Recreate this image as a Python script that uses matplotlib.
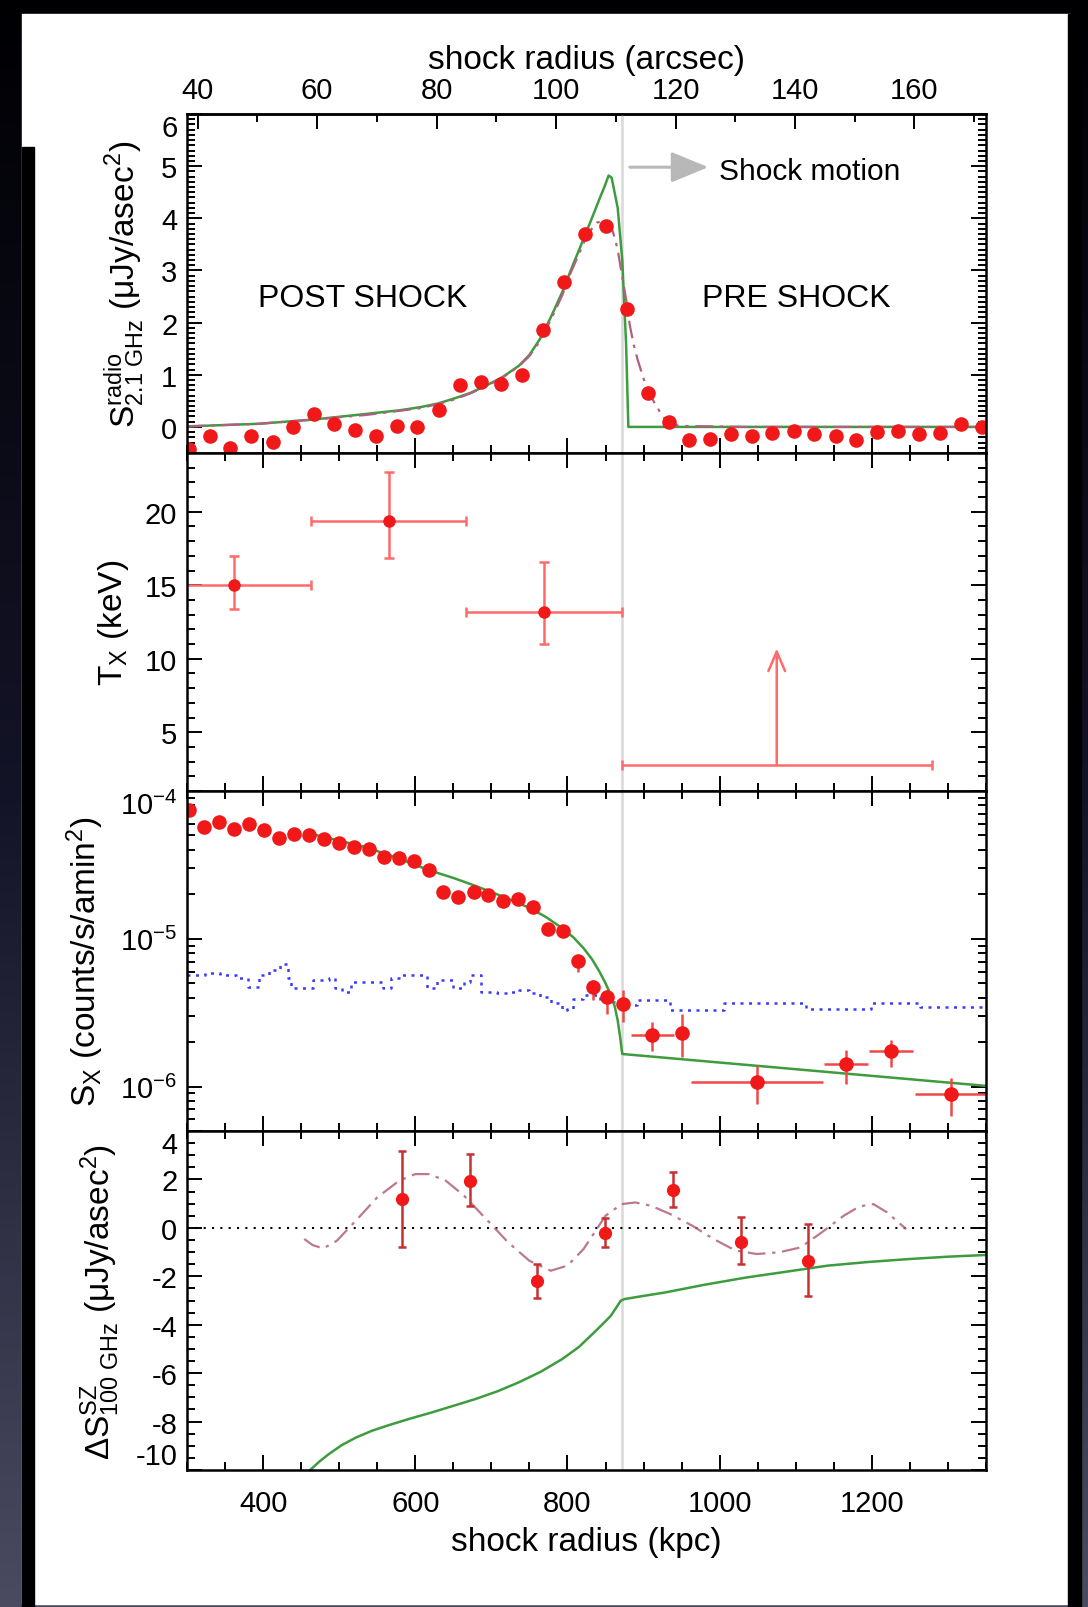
import numpy as np
import matplotlib
matplotlib.use('Agg')
import matplotlib.pyplot as plt
from matplotlib.ticker import MultipleLocator, LogLocator, NullFormatter
from matplotlib.patches import Rectangle
from matplotlib.colors import LinearSegmentedColormap

plt.rcParams['font.family'] = ['Liberation Sans', 'DejaVu Sans']
plt.rcParams['mathtext.fontset'] = 'custom'
plt.rcParams['mathtext.rm'] = 'Liberation Sans'
plt.rcParams['mathtext.it'] = 'Liberation Sans:italic'
plt.rcParams['mathtext.bf'] = 'Liberation Sans:bold'
plt.rcParams['axes.unicode_minus'] = False

KPC_PER_ARCSEC = 7.85
R_SHOCK = 871.0

# radio surface brightness profile (kpc, uJy/asec^2)
radio_r = [302.6, 329.7, 356.8, 384.6, 412.4, 439.5, 466.5, 493.6, 520.7, 548.4,
           575.5, 602.5, 631.0, 658.8, 685.8, 712.9, 740.0, 767.8, 794.9, 822.7,
           851.1, 878.2, 905.3, 933.0, 960.0, 987.0, 1014.9, 1042.0, 1069.0, 1097.5,
           1124.6, 1152.3, 1179.4, 1207.2, 1234.3, 1261.4, 1289.1, 1316.9, 1344.6]
radio_s = [-0.42, -0.18, -0.41, -0.17, -0.28, -0.01, 0.25, 0.06, -0.05, -0.18,
           0.01, -0.01, 0.33, 0.81, 0.87, 0.82, 1.00, 1.86, 2.78, 3.70,
           3.85, 2.26, 0.65, 0.09, -0.25, -0.23, -0.14, -0.18, -0.12, -0.07,
           -0.14, -0.18, -0.26, -0.09, -0.07, -0.14, -0.12, 0.06, -0.01]

# unconvolved model
radio_mod_r = [300, 394, 465, 536, 580, 607, 630, 650, 672, 693, 715, 736, 750,
               764, 778, 793, 807, 821, 832, 842, 849, 854, 858, 866, 872, 877,
               880, 1350]
radio_mod_s = [0.01, 0.06, 0.14, 0.25, 0.32, 0.38, 0.45, 0.54, 0.65, 0.79, 0.96,
               1.17, 1.38, 1.69, 2.10, 2.58, 3.10, 3.60, 4.00, 4.37, 4.62, 4.82,
               4.78, 4.20, 3.20, 1.60, 0.0, 0.0]

# model convolved with the beam
radio_conv_r = [300, 394, 465, 536, 580, 607, 630, 650, 672, 693, 715, 736, 750,
                764, 778, 793, 804, 814, 821, 828, 839, 850, 856, 860, 866, 871,
                877, 882, 887, 892, 898, 903, 914, 921, 928, 937, 946, 1035, 1350]
radio_conv_s = [0.01, 0.06, 0.14, 0.23, 0.31, 0.36, 0.44, 0.52, 0.64, 0.78, 0.95,
                1.16, 1.36, 1.65, 2.05, 2.52, 2.95, 3.28, 3.52, 3.73, 3.92, 3.95,
                3.88, 3.73, 3.40, 2.96, 2.45, 1.94, 1.58, 1.30, 1.02, 0.79, 0.47,
                0.30, 0.15, 0.07, 0.02, 0.0, 0.0]

# X-ray temperatures (keV)
tx_r = [362, 565, 769]
tx_xerr = [101, 102, 102]
tx = [15.0, 19.36, 13.15]
tx_lo = [13.4, 16.86, 11.02]
tx_hi = [17.0, 22.7, 16.6]
tx_lim_r = 1075
tx_lim_xerr = 204
tx_lim = 2.8
tx_lim_top = 10.7

# X-ray surface brightness (counts/s/amin^2)
sx_r = [302.7, 322.6, 342.6, 361.8, 381.7, 401.0, 420.9, 440.8, 460.1, 480.0,
        499.2, 519.2, 539.1, 558.4, 578.3, 598.2, 617.5, 636.7, 656.6, 676.6,
        695.8, 715.8, 735.0, 755.0, 774.2, 794.1, 813.3, 833.3, 852.5, 872.4,
        911.6, 950.8, 1049.0, 1165.9, 1225.0, 1303.4]
sx = [7.38e-5, 5.75e-5, 6.15e-5, 5.53e-5, 5.98e-5, 5.44e-5, 4.81e-5, 5.12e-5, 5.04e-5, 4.73e-5,
      4.42e-5, 4.15e-5, 4.05e-5, 3.59e-5, 3.51e-5, 3.37e-5, 2.91e-5, 2.08e-5, 1.91e-5, 2.08e-5,
      1.98e-5, 1.80e-5, 1.87e-5, 1.65e-5, 1.17e-5, 1.12e-5, 7.08e-6, 4.74e-6, 4.05e-6, 3.59e-6,
      2.24e-6, 2.31e-6, 1.08e-6, 1.42e-6, 1.73e-6, 8.87e-7]
sx_hi = [7.38e-5, 5.75e-5, 6.15e-5, 5.53e-5, 5.98e-5, 5.44e-5, 4.81e-5, 5.12e-5, 5.04e-5, 4.73e-5,
         4.42e-5, 4.15e-5, 4.05e-5, 3.59e-5, 3.51e-5, 3.37e-5, 2.91e-5, 2.08e-5, 1.91e-5, 2.08e-5,
         1.98e-5, 1.80e-5, 1.87e-5, 1.65e-5, 1.17e-5, 1.12e-5, 7.78e-6, 5.26e-6, 4.49e-6, 4.49e-6,
         2.74e-6, 3.12e-6, 1.38e-6, 1.78e-6, 2.05e-6, 1.14e-6]
sx_lo = [7.38e-5, 5.75e-5, 6.15e-5, 5.53e-5, 5.98e-5, 5.44e-5, 4.81e-5, 5.12e-5, 5.04e-5, 4.73e-5,
         4.42e-5, 4.15e-5, 4.05e-5, 3.59e-5, 3.51e-5, 3.37e-5, 2.91e-5, 2.08e-5, 1.91e-5, 2.08e-5,
         1.98e-5, 1.80e-5, 1.87e-5, 1.65e-5, 1.17e-5, 1.12e-5, 6.00e-6, 3.84e-6, 3.12e-6, 2.74e-6,
         1.75e-6, 1.58e-6, 7.59e-7, 1.04e-6, 1.35e-6, 6.30e-7]
sx_xerr = [0] * 30 + [28.5, 0, 87, 28.5, 28.5, 47]

sx_mod_r = [465, 500, 536, 578, 618, 650, 679, 715, 750, 772, 793, 808, 821, 832,
            842, 850, 857, 862, 866, 869, 872, 1350]
sx_mod = [5.1e-5, 4.62e-5, 4.15e-5, 3.5e-5, 2.91e-5, 2.58e-5, 2.28e-5, 1.93e-5,
          1.62e-5, 1.40e-5, 1.18e-5, 1.02e-5, 8.65e-6, 7.3e-6, 6.0e-6, 5.0e-6,
          4.15e-6, 3.5e-6, 2.8e-6, 2.2e-6, 1.66e-6, 1.01e-6]

# background level, binned
bkg_edges = [300, 323, 344, 365, 380, 394, 408, 422, 433, 437, 465, 486, 494, 504,
             515, 558, 568, 580, 615, 629, 650, 664, 672, 686, 707, 722, 736, 750,
             764, 778, 793, 800, 807, 821, 843, 864, 878, 892, 935, 1006, 1113,
             1199, 1263, 1350]
bkg = [5.69e-6, 5.83e-6, 5.69e-6, 5.46e-6, 4.74e-6, 5.69e-6, 6.15e-6, 6.73e-6,
       5.40e-6, 4.61e-6, 5.26e-6, 5.40e-6, 4.61e-6, 4.38e-6, 5.13e-6, 4.61e-6,
       5.40e-6, 5.69e-6, 4.61e-6, 5.26e-6, 4.61e-6, 5.13e-6, 5.69e-6, 4.38e-6,
       4.27e-6, 4.38e-6, 4.49e-6, 4.27e-6, 4.05e-6, 3.65e-6, 3.28e-6, 3.37e-6,
       3.94e-6, 4.15e-6, 3.74e-6, 3.65e-6, 3.55e-6, 3.84e-6, 3.28e-6, 3.65e-6,
       3.37e-6, 3.65e-6, 3.46e-6, 3.46e-6]

# SZ decrement (uJy/asec^2)
sz_r = [582.6, 671.6, 760.6, 849.7, 938.7, 1027.7, 1116.7]
sz = [1.19, 1.95, -2.21, -0.23, 1.58, -0.57, -1.36]
sz_hi = [3.19, 3.05, -1.50, 0.39, 2.32, 0.43, 0.16]
sz_lo = [-0.77, 0.89, -2.91, -0.81, 0.85, -1.50, -2.83]

sz_fit_r = [454, 465, 479, 497, 522, 550, 579, 600, 618, 640, 664, 693, 722, 750,
            778, 800, 821, 850, 871, 889, 910, 935, 964, 992, 1021, 1049, 1078,
            1106, 1134, 1163, 1184, 1202, 1220, 1245]
sz_fit = [-0.46, -0.71, -0.85, -0.53, 0.30, 1.26, 1.95, 2.22, 2.22, 1.95, 1.33,
          0.37, -0.60, -1.36, -1.77, -1.56, -0.88, 0.50, 0.98, 1.05, 0.91, 0.57,
          0.09, -0.46, -0.94, -1.08, -1.01, -0.81, -0.19, 0.50, 0.89, 0.98, 0.64,
          -0.05]

sz_mod_r = [440, 461.5, 474, 486, 503, 522, 543, 565, 593, 622, 650, 679, 708,
            736, 765, 793, 815, 835, 847, 857, 865, 870, 875, 900, 928, 980, 1035,
            1090, 1142, 1195, 1248, 1300, 1350]
sz_mod = [-10.6, -10.01, -9.65, -9.35, -8.98, -8.66, -8.38, -8.15, -7.88, -7.62,
          -7.35, -7.07, -6.75, -6.38, -5.94, -5.42, -4.92, -4.32, -3.95, -3.63,
          -3.25, -3.01, -2.94, -2.81, -2.67, -2.35, -2.05, -1.80, -1.56, -1.41,
          -1.29, -1.19, -1.12]

RED = '#f01818'
GREEN = '#3d9c3d'
PINK = '#b0607e'
W, H = 1088, 1608

fig = plt.figure(figsize=(W / 100, H / 100), dpi=100, facecolor='#101018')

# slide backdrop
bg = fig.add_axes([0, 0, 1, 1], zorder=-10)
bg.set_xlim(0, W)
bg.set_ylim(H, 0)
bg.axis('off')
shade = np.linspace(0, 1, 256)[:, None]
cmap = LinearSegmentedColormap.from_list('bg', ['#000003', '#141428', '#4a4a60'])
bg.imshow(shade, extent=(0, W, H, 0), cmap=cmap, aspect='auto')
bg.add_patch(Rectangle((22, 15), 1048, 1590, color='white'))
bg.add_patch(Rectangle((22, 148), 12, 1460, color='black'))
bg.add_patch(Rectangle((1068, 15), 13, 1593, color='black'))

L, R = 187, 986
edges = [115, 454, 792, 1132, 1471]
axes = []
for top, bot in zip(edges[:-1], edges[1:]):
    ax = fig.add_axes([L / W, 1 - bot / H, (R - L) / W, (bot - top) / H])
    ax.set_xlim(300, 1350)
    ax.xaxis.set_major_locator(MultipleLocator(200))
    ax.xaxis.set_minor_locator(MultipleLocator(50))
    ax.tick_params(which='both', direction='in', top=True, bottom=True,
                   left=True, right=True, width=1.4, labelsize=21, pad=7)
    ax.tick_params(which='major', length=11)
    ax.tick_params(which='minor', length=5.5)
    for s in ax.spines.values():
        s.set_linewidth(1.8)
    ax.axvline(R_SHOCK, color='#d9d9d9', lw=1.8, zorder=0.5)
    axes.append(ax)
ax1, ax2, ax3, ax4 = axes
for ax in axes[:-1]:
    ax.tick_params(labelbottom=False)
ax1.tick_params(axis='x', which='both', top=False)

# radio
ax1.set_ylim(-0.5, 6)
ax1.yaxis.set_major_locator(MultipleLocator(1))
ax1.yaxis.set_minor_locator(MultipleLocator(0.1))
ax1.plot(radio_mod_r, radio_mod_s, color=GREEN, lw=1.8)
ax1.plot(radio_conv_r, radio_conv_s, color=PINK, lw=1.6, dashes=[8, 3, 1.5, 3])
ax1.plot(radio_r, radio_s, 'o', color=RED, ms=10.5, mec='none')
ax1.text(531, 2.48, 'POST SHOCK', fontsize=23, ha='center', va='center')
ax1.text(1101, 2.48, 'PRE SHOCK', fontsize=23, ha='center', va='center')
ax1.annotate('', xy=(985, 4.98), xytext=(882, 4.98),
             arrowprops=dict(arrowstyle='-|>,head_length=2.3,head_width=0.95',
                             color='#b8b8b8', lw=2.2, shrinkA=0, shrinkB=0))
ax1.text(999, 4.91, 'Shock motion', fontsize=21.5, ha='left', va='center')
ax1.set_ylabel(r'$\mathregular{S^{radio}_{2.1\ GHz}}$ (μJy/asec$^{\mathregular{2}}$)',
               fontsize=24, labelpad=10)

sec = ax1.secondary_xaxis('top', functions=(lambda r: r / KPC_PER_ARCSEC,
                                             lambda a: a * KPC_PER_ARCSEC))
sec.xaxis.set_major_locator(MultipleLocator(20))
sec.xaxis.set_minor_locator(MultipleLocator(10))
sec.tick_params(which='both', direction='in', width=1.4, labelsize=21, pad=7)
sec.tick_params(which='major', length=11)
sec.tick_params(which='minor', length=5.5)
sec.spines['top'].set_linewidth(1.8)
sec.set_xlabel('shock radius (arcsec)', fontsize=24, labelpad=6)

# temperature
ax2.set_ylim(1, 24)
ax2.yaxis.set_major_locator(MultipleLocator(5))
ax2.yaxis.set_minor_locator(MultipleLocator(1))
tx_a = np.array(tx)
ax2.errorbar(tx_r, tx, xerr=tx_xerr,
             yerr=[tx_a - np.array(tx_lo), np.array(tx_hi) - tx_a],
             fmt='o', color=RED, ecolor='#ff6a6a', ms=9, mec='none',
             elinewidth=1.8, capsize=3.5, capthick=1.8)
ax2.errorbar([tx_lim_r], [tx_lim], xerr=[tx_lim_xerr], fmt='none',
             ecolor='#ff6a6a', elinewidth=1.8, capsize=3.5, capthick=1.8)
ax2.annotate('', xy=(tx_lim_r, tx_lim_top), xytext=(tx_lim_r, tx_lim),
             arrowprops=dict(arrowstyle='->,head_length=0.7,head_width=0.3',
                             color='#ff6a6a', lw=1.8, shrinkA=0, shrinkB=0,
                             mutation_scale=20))
ax2.set_ylabel(r'T$_{\mathregular{X}}$ (keV)', fontsize=24, labelpad=10)

# X-ray surface brightness
ax3.set_yscale('log')
ax3.set_ylim(5e-7, 1e-4)
ax3.yaxis.set_major_locator(LogLocator(base=10))
ax3.yaxis.set_minor_locator(LogLocator(base=10, subs=np.arange(2, 10)))
ax3.yaxis.set_minor_formatter(NullFormatter())
ax3.step(bkg_edges, bkg, where='post', color='#3a3aff', lw=1.8, ls=(0, (1.2, 2.2)))
ax3.plot(sx_mod_r, sx_mod, color=GREEN, lw=1.8)
sx_a = np.array(sx)
ax3.errorbar(sx_r, sx, xerr=sx_xerr,
             yerr=[sx_a - np.array(sx_lo), np.array(sx_hi) - sx_a],
             fmt='o', color=RED, ecolor='#f04848', ms=10.5, mec='none',
             elinewidth=1.8, capsize=0)
ax3.set_ylabel(r'S$_{\mathregular{X}}$ (counts/s/amin$^{\mathregular{2}}$)',
               fontsize=24, labelpad=10)

# SZ
ax4.set_ylim(-10, 4)
ax4.yaxis.set_major_locator(MultipleLocator(2))
ax4.yaxis.set_minor_locator(MultipleLocator(0.5))
ax4.axhline(0, color='black', lw=1.5, ls=(0, (1, 3)))
ax4.plot(sz_mod_r, sz_mod, color=GREEN, lw=1.8)
ax4.plot(sz_fit_r, sz_fit, color=PINK, lw=1.6, dashes=[8, 3, 1.5, 3], alpha=0.85)
sz_a = np.array(sz)
ax4.errorbar(sz_r, sz, yerr=[sz_a - np.array(sz_lo), np.array(sz_hi) - sz_a],
             fmt='o', color=RED, ecolor='#c83030', ms=9.5, mec='none',
             elinewidth=1.8, capsize=3, capthick=1.8)
ax4.set_ylabel(r'Δ$\mathregular{S^{SZ}_{100\ GHz}}$ (μJy/asec$^{\mathregular{2}}$)',
               fontsize=24, labelpad=10)
ax4.tick_params(axis='x', pad=14)
ax4.set_xlabel('shock radius (kpc)', fontsize=24, labelpad=6)

# keep the edge labels inside their own panel
fig.canvas.draw()
for ax in (ax1, ax3, ax4):
    ymax = ax.get_ylim()[1]
    for tick in ax.yaxis.get_major_ticks():
        if np.isclose(tick.get_loc(), ymax):
            tick.label1.set_va('top')
for tick in ax4.yaxis.get_major_ticks():
    if np.isclose(tick.get_loc(), -10):
        tick.label1.set_va('bottom')

fig.savefig('out.png', dpi=100, facecolor=fig.get_facecolor())
